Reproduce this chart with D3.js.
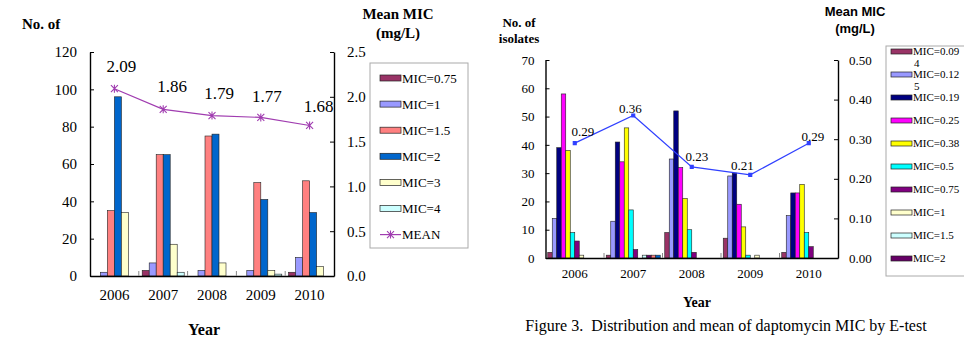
<!DOCTYPE html>
<html>
<head>
<meta charset="utf-8">
<script src="https://cdn.jsdelivr.net/npm/d3@7"></script>
<style>
  body { margin: 0; background: #fff; }
  svg { display: block; font-family: "Liberation Serif", "Times New Roman", serif; }
</style>
</head>
<body>
<svg id="chart" width="964" height="339"></svg>
<script>
// ---- data ----
const years = ["2006", "2007", "2008", "2009", "2010"];

// left chart (counts per year, one value per series)
const leftSeries = ["MIC=0.75", "MIC=1", "MIC=1.5", "MIC=2", "MIC=3", "MIC=4"];
const leftCounts = [
  [0, 2, 35, 96, 34, 0],
  [3, 7, 65, 65, 17, 2],
  [0, 3, 75, 76, 7, 0],
  [0, 3, 50, 41, 3, 1],
  [2, 10, 51, 34, 5, 0]
];
const leftMean = [2.09, 1.86, 1.79, 1.77, 1.68];
const leftCountTicks = [0, 20, 40, 60, 80, 100, 120];
const leftMeanTicks = [0, 0.5, 1, 1.5, 2, 2.5];

// right chart
const rightSeries = ["MIC=0.094", "MIC=0.125", "MIC=0.19", "MIC=0.25", "MIC=0.38", "MIC=0.5",
                     "MIC=0.75", "MIC=1", "MIC=1.5", "MIC=2", "MIC=3", "MIC=4"];
const rightCounts = [
  [2, 14, 39, 58, 38, 9, 6, 1, 0, 0, 0, 0],
  [1, 13, 41, 34, 46, 17, 3, 0, 1, 1, 1, 1],
  [9, 35, 52, 32, 21, 10, 2, 0, 0, 0, 0, 0],
  [7, 29, 30, 19, 11, 1, 0, 1, 0, 0, 0, 0],
  [2, 15, 23, 23, 26, 9, 4, 0, 0, 0, 0, 0]
];
const rightMean = [0.29, 0.36, 0.23, 0.21, 0.29];
const rightCountTicks = [0, 10, 20, 30, 40, 50, 60, 70];
const rightMeanTicks = [0, 0.1, 0.2, 0.3, 0.4, 0.5];

// ---- styles ----
const leftColors = ["#993366", "#9999ff", "#ff8080", "#0066cc", "#ffffcc", "#ccffff"];
const rightColors = ["#993366", "#9999ff", "#000080", "#ff00ff", "#ffff00", "#00ffff",
                     "#800080", "#ffffcc", "#ccffff", "#660066", "#ff8080", "#0066cc"];

const svg = d3.select("#chart");

function drawPanel(p) {
  const x = d3.scaleBand().domain(years).range([p.x0, p.x1]).padding(0);
  const xs = d3.scaleBand().domain(p.series)
    .range([(x.bandwidth() - p.groupW) / 2, (x.bandwidth() + p.groupW) / 2]);
  const y = d3.scaleLinear().domain([0, d3.max(p.countTicks)]).range([p.yBot, p.yTop]);
  const y2 = d3.scaleLinear().domain([0, d3.max(p.meanTicks)]).range([p.yBot, p.yTop]);

  const g = svg.append("g");

  // bars
  g.selectAll("g.year")
    .data(p.counts)
    .join("g")
    .attr("transform", (d, i) => `translate(${x(years[i])},0)`)
    .selectAll("rect")
    .data(d => d.map((v, j) => ({ v, j })))
    .join("rect")
    .filter(d => d.v > 0)
    .attr("x", d => xs(p.series[d.j]))
    .attr("width", xs.bandwidth())
    .attr("y", d => y(d.v))
    .attr("height", d => y(0) - y(d.v))
    .attr("fill", d => p.colors[d.j])
    .attr("stroke", "#222")
    .attr("stroke-width", 0.6);

  // axes
  const axL = d3.axisLeft(y).tickValues(p.countTicks).tickSizeInner(-4).tickSizeOuter(0)
    .tickPadding(p.padL);
  const axR = d3.axisRight(y2).tickValues(p.meanTicks).tickSizeInner(-4).tickSizeOuter(0)
    .tickPadding(p.padR).tickFormat(d3.format(p.meanFmt));
  const axB = d3.axisBottom(x).tickSize(0).tickPadding(p.padB);

  [[axL, `translate(${p.x0},0)`], [axR, `translate(${p.x1},0)`], [axB, `translate(0,${p.yBot})`]]
    .forEach(([ax, tr]) => {
      const a = g.append("g").attr("transform", tr).call(ax)
        .attr("font-family", "Liberation Serif").attr("font-size", p.tickFont);
      a.select(".domain").attr("stroke", "#000").attr("stroke-width", 1.4);
      a.selectAll(".tick line").attr("stroke", "#000");
      a.selectAll("text").attr("fill", "#000");
    });

  // category separators on the x axis
  g.selectAll("line.sep")
    .data(years.slice(1))
    .join("line")
    .attr("x1", d => x(d)).attr("x2", d => x(d))
    .attr("y1", p.yBot).attr("y2", p.yBot - 5)
    .attr("stroke", "#888");

  // mean line
  const pts = p.mean.map((m, i) => [x(years[i]) + x.bandwidth() / 2, y2(m)]);
  g.append("path")
    .attr("d", d3.line()(pts))
    .attr("fill", "none")
    .attr("stroke", p.lineColor)
    .attr("stroke-width", 1.2);

  g.selectAll("path.mk")
    .data(pts)
    .join("path")
    .attr("transform", d => `translate(${d[0]},${d[1]})`)
    .attr("d", p.marker)
    .attr("fill", p.lineColor)
    .attr("stroke", p.lineColor)
    .attr("stroke-width", 1.1);

  g.selectAll("text.lab")
    .data(p.mean)
    .join("text")
    .attr("x", (d, i) => pts[i][0] + p.nudge[i][0])
    .attr("y", (d, i) => pts[i][1] + p.nudge[i][1])
    .attr("dy", "0.35em")
    .attr("text-anchor", "middle")
    .attr("font-size", p.labFont)
    .text(d => d3.format(".2f")(d));

  return { x, y, y2 };
}

const asterisk = "M-3.5,-3.5L3.5,3.5M-3.5,3.5L3.5,-3.5M0,-4L0,4";

// ---- left chart ----
drawPanel({
  x0: 90, x1: 334, yTop: 52, yBot: 276, groupW: 42,
  series: leftSeries, counts: leftCounts, colors: leftColors, mean: leftMean,
  countTicks: leftCountTicks, meanTicks: leftMeanTicks, meanFmt: ".1f",
  padL: 13, padR: 13, padB: 13, tickFont: 15, labFont: 17,
  lineColor: "#a03cb0", marker: asterisk,
  nudge: [[7, -22.5], [9, -23], [7, -23], [6, -21], [9, -19]]
});

svg.append("text").attr("x", 22).attr("y", 29)
  .attr("font-weight", "bold").attr("font-size", 15).text("No. of");
svg.append("text").attr("x", 398).attr("y", 19).attr("text-anchor", "middle")
  .attr("font-weight", "bold").attr("font-size", 15).text("Mean MIC");
svg.append("text").attr("x", 398).attr("y", 38).attr("text-anchor", "middle")
  .attr("font-weight", "bold").attr("font-size", 15).text("(mg/L)");
svg.append("text").attr("x", 204).attr("y", 335).attr("text-anchor", "middle")
  .attr("font-weight", "bold").attr("font-size", 16).text("Year");

// left legend
const legL = svg.append("g");
legL.append("rect").attr("x", 370).attr("y", 63).attr("width", 98).attr("height", 185)
  .attr("fill", "#fff").attr("stroke", "#aaa");
const legLItems = leftSeries.concat(["MEAN"]);
legLItems.forEach((name, i) => {
  const cy = 78 + i * 26.1;
  if (i < leftSeries.length) {
    legL.append("rect").attr("x", 380).attr("y", cy - 3).attr("width", 21).attr("height", 6)
      .attr("fill", leftColors[i]).attr("stroke", "#222").attr("stroke-width", 0.7);
  } else {
    legL.append("line").attr("x1", 380).attr("x2", 401).attr("y1", cy).attr("y2", cy)
      .attr("stroke", "#a03cb0").attr("stroke-width", 1.2);
    legL.append("path").attr("transform", `translate(390.5,${cy})`).attr("d", asterisk)
      .attr("stroke", "#a03cb0").attr("stroke-width", 1.1);
  }
  legL.append("text").attr("x", 402).attr("y", cy).attr("dy", "0.35em")
    .attr("font-size", 13).text(name);
});

// ---- right chart ----
drawPanel({
  x0: 545.5, x1: 838, yTop: 60, yBot: 258, groupW: 54,
  series: rightSeries, counts: rightCounts, colors: rightColors, mean: rightMean,
  countTicks: rightCountTicks, meanTicks: rightMeanTicks, meanFmt: ".2f",
  padL: 11, padR: 11, padB: 11, tickFont: 13, labFont: 13,
  lineColor: "#3040ff", marker: "M-1.5,-1.5h3v3h-3z",
  nudge: [[8, -12], [-3, -7], [5, -10], [-8, -9], [4, -7]]
});

svg.append("text").attr("x", 519).attr("y", 27).attr("text-anchor", "middle")
  .attr("font-weight", "bold").attr("font-size", 13).text("No. of");
svg.append("text").attr("x", 519).attr("y", 43).attr("text-anchor", "middle")
  .attr("font-weight", "bold").attr("font-size", 13).text("isolates");
svg.append("text").attr("x", 855).attr("y", 16).attr("text-anchor", "middle")
  .attr("font-family", "Liberation Sans").attr("font-weight", "bold").attr("font-size", 13)
  .text("Mean MIC");
svg.append("text").attr("x", 855).attr("y", 33).attr("text-anchor", "middle")
  .attr("font-family", "Liberation Sans").attr("font-weight", "bold").attr("font-size", 13)
  .text("(mg/L)");
svg.append("text").attr("x", 697).attr("y", 307).attr("text-anchor", "middle")
  .attr("font-weight", "bold").attr("font-size", 14).text("Year");
svg.append("text").attr("x", 726).attr("y", 331).attr("text-anchor", "middle")
  .attr("font-size", 16).attr("xml:space", "preserve")
  .text("Figure 3.  Distribution and mean of daptomycin MIC by E-test");

// right legend (box runs past the page edge, only the first ten entries fit)
const legR = svg.append("g");
legR.append("rect").attr("x", 886).attr("y", 46).attr("width", 100).attr("height", 230)
  .attr("fill", "#fff").attr("stroke", "#aaa");
rightSeries.slice(0, 10).forEach((name, i) => {
  const cy = 51.5 + i * 23;
  legR.append("rect").attr("x", 891).attr("y", cy - 2.5).attr("width", 21).attr("height", 5)
    .attr("fill", rightColors[i]).attr("stroke", "#222").attr("stroke-width", 0.7);
  const t = legR.append("text").attr("x", 913).attr("y", cy).attr("dy", "0.35em")
    .attr("font-size", 11);
  t.append("tspan").text(name.slice(0, 8));
  if (name.length > 8) {
    t.append("tspan").attr("x", 914).attr("dy", "1.05em").text(name.slice(8));
  }
});
</script>
</body>
</html>
